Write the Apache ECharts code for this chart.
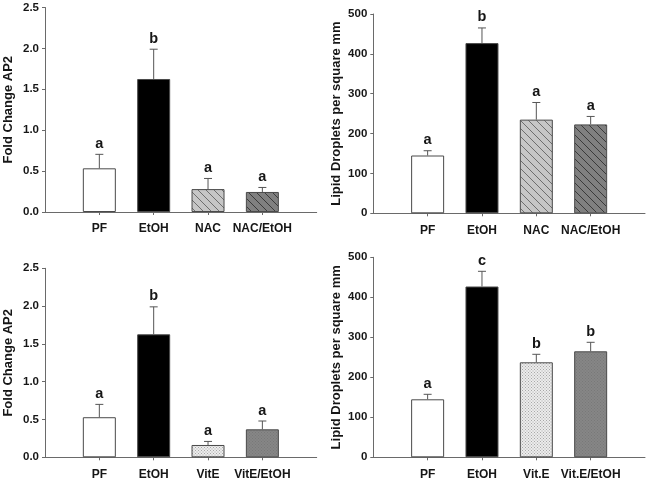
<!DOCTYPE html>
<html>
<head>
<meta charset="utf-8">
<script src="https://cdn.jsdelivr.net/npm/echarts@6/dist/echarts.min.js"></script>
<style>
html,body{margin:0;padding:0;background:#fff;}
#c{width:647px;height:483px;}
</style>
</head>
<body>
<div id="c"></div>
<script>
// ---- data ----
const catsNAC = ['PF', 'EtOH', 'NAC', 'NAC/EtOH'];
const catsVitE1 = ['PF', 'EtOH', 'VitE', 'VitE/EtOH'];
const catsVitE2 = ['PF', 'EtOH', 'Vit.E', 'Vit.E/EtOH'];

const ap2NAC = [0.534, 1.626, 0.28, 0.245];
const ap2NACErr = [0.705, 1.99, 0.41, 0.30];
const ap2NACLetters = ['a', 'b', 'a', 'a'];

const lipidNAC = [145, 427, 235, 223];
const lipidNACErr = [157, 465, 278, 243];
const lipidNACLetters = ['a', 'b', 'a', 'a'];

const ap2VitE = [0.53, 1.627, 0.163, 0.37];
const ap2VitEErr = [0.70, 1.99, 0.21, 0.48];
const ap2VitELetters = ['a', 'b', 'a', 'a'];

const lipidVitE = [145, 427, 237.5, 265];
const lipidVitEErr = [157.5, 465, 257.5, 287.5];
const lipidVitELetters = ['a', 'c', 'b', 'b'];

const ap2Ticks = [0, 0.5, 1.0, 1.5, 2.0, 2.5];
const lipidTicks = [0, 100, 200, 300, 400, 500];

// ---- patterns ----
function hatch(base, line) {
  const c = document.createElement('canvas');
  const s = 8;
  c.width = s; c.height = s;
  const g = c.getContext('2d');
  g.fillStyle = base; g.fillRect(0, 0, s, s);
  g.strokeStyle = line; g.lineWidth = 1;
  g.beginPath();
  g.moveTo(-1, -1); g.lineTo(s + 1, s + 1);
  g.moveTo(-1, s - 1); g.lineTo(1, s + 1);
  g.moveTo(s - 1, -1); g.lineTo(s + 1, 1);
  g.stroke();
  return { image: c, repeat: 'repeat' };
}
function dots(base, dot) {
  const c = document.createElement('canvas');
  c.width = 3; c.height = 3;
  const g = c.getContext('2d');
  g.fillStyle = base; g.fillRect(0, 0, 3, 3);
  g.fillStyle = dot; g.fillRect(0, 0, 1, 1); g.fillRect(1.5, 1.5, 1, 1);
  return { image: c, repeat: 'repeat' };
}

const stylesNAC = [
  { color: '#ffffff' },
  { color: '#000000' },
  { color: hatch('#c6c6c6', '#6e6e6e') },
  { color: hatch('#808080', '#3a3a3a') }
];
const stylesVitE = [
  { color: '#ffffff' },
  { color: '#000000' },
  { color: dots('#ececec', '#a8a8a8') },
  { color: dots('#868686', '#787878') }
];

const FONT = 'Liberation Sans, Arial, sans-serif';
const TXT = '#161616';

const grids = [
  { left: 45, right: 330.3, top: 7.5, height: 204.5 },
  { left: 373.3, right: 2, top: 14, height: 199.3 },
  { left: 45, right: 330.3, top: 268.3, height: 189 },
  { left: 373.3, right: 2, top: 257.3, height: 200 }
];

const panels = [
  { cats: catsNAC, vals: ap2NAC, errs: ap2NACErr, letters: ap2NACLetters, styles: stylesNAC, ticks: ap2Ticks, name: 'Fold Change AP2', dec: 1 },
  { cats: catsNAC, vals: lipidNAC, errs: lipidNACErr, letters: lipidNACLetters, styles: stylesNAC, ticks: lipidTicks, name: 'Lipid Droplets per square mm', dec: 0 },
  { cats: catsVitE1, vals: ap2VitE, errs: ap2VitEErr, letters: ap2VitELetters, styles: stylesVitE, ticks: ap2Ticks, name: 'Fold Change AP2', dec: 1 },
  { cats: catsVitE2, vals: lipidVitE, errs: lipidVitEErr, letters: lipidVitELetters, styles: stylesVitE, ticks: lipidTicks, name: 'Lipid Droplets per square mm', dec: 0 }
];

const xAxes = [], yAxes = [], series = [];
panels.forEach((p, i) => {
  const cats = p.cats;
  xAxes.push({
    type: 'value', gridIndex: i, min: 0, max: 5, interval: 1,
    axisLine: { show: true, lineStyle: { color: '#6a6a6a', width: 1 } },
    axisTick: { show: true, length: 3, customValues: [1, 2, 3, 4], lineStyle: { color: '#6a6a6a' } },
    axisLabel: {
      customValues: [1, 2, 3, 4],
      formatter: v => cats[Math.round(v) - 1] || '',
      fontFamily: FONT, fontWeight: 'bold', fontSize: 12, color: TXT, margin: 11
    },
    splitLine: { show: false }
  });
  const step = p.ticks[1] - p.ticks[0];
  yAxes.push({
    type: 'value', gridIndex: i, min: p.ticks[0], max: p.ticks[p.ticks.length - 1], interval: step,
    name: p.name, nameLocation: 'middle', nameRotate: 90, nameGap: 30,
    nameTextStyle: { fontFamily: FONT, fontWeight: 'bold', fontSize: 13, color: TXT },
    axisLine: { show: true, lineStyle: { color: '#6a6a6a', width: 1 } },
    axisTick: { show: true, length: 3, lineStyle: { color: '#6a6a6a' } },
    axisLabel: {
      formatter: v => v.toFixed(p.dec),
      fontFamily: FONT, fontWeight: 'bold', fontSize: 11.5, color: TXT, margin: 6
    },
    splitLine: { show: false }
  });
  series.push({
    type: 'bar', xAxisIndex: i, yAxisIndex: i, barWidth: 33,
    data: p.vals.map((v, k) => ({
      value: [k + 1, v],
      itemStyle: Object.assign({ borderColor: '#4a4a4a', borderWidth: 1 }, p.styles[k])
    })),
    silent: true, animation: false
  });
  series.push({
    type: 'custom', xAxisIndex: i, yAxisIndex: i, z: 5,
    data: p.vals.map((v, k) => [k + 1, v, p.errs[k]]),
    renderItem: (params, api) => {
      const x = api.value(0);
      const b = api.coord([x, api.value(1)]);
      const t = api.coord([x, api.value(2)]);
      const hw = 4;
      return {
        type: 'group',
        children: [
          { type: 'line', shape: { x1: b[0], y1: b[1], x2: t[0], y2: t[1] }, style: { stroke: '#555', lineWidth: 1 } },
          { type: 'line', shape: { x1: t[0] - hw, y1: t[1], x2: t[0] + hw, y2: t[1] }, style: { stroke: '#555', lineWidth: 1 } },
          { type: 'text', x: t[0], y: t[1] - 3,
            style: { text: p.letters[params.dataIndex], fill: TXT, font: 'bold 14.5px ' + FONT, align: 'center', verticalAlign: 'bottom' } }
        ]
      };
    },
    silent: true, animation: false
  });
});

const chart = echarts.init(document.getElementById('c'));
chart.setOption({
  animation: false,
  grid: grids,
  xAxis: xAxes,
  yAxis: yAxes,
  series: series
});
</script>
</body>
</html>
